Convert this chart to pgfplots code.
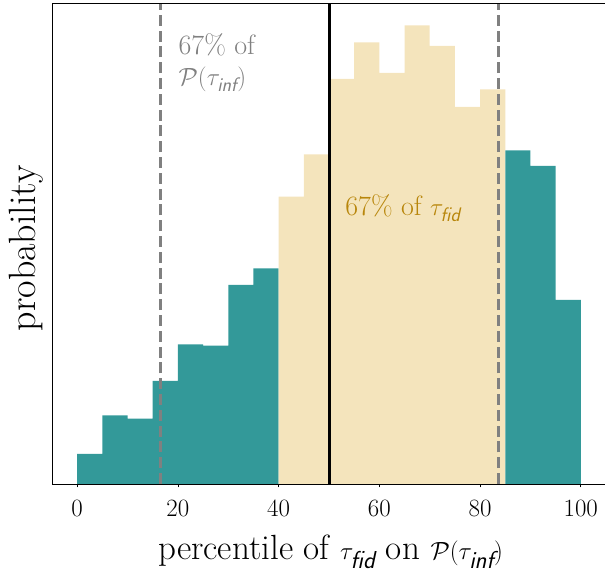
\documentclass[border=0pt]{standalone}
\usepackage{pgfplots}
\pgfplotsset{compat=1.18}
\usepackage{amsmath}
\definecolor{tealbar}{HTML}{339999}
\definecolor{wheatbar}{HTML}{F4E4BC}
\definecolor{goldtxt}{HTML}{B8860B}
\definecolor{grayline}{HTML}{808080}
\newcommand{\sub}[1]{\textsf{\itshape #1}}
\begin{document}
\begin{tikzpicture}
\useasboundingbox (-52pt,-88pt) rectangle (553pt,484pt);
\begin{axis}[
    at={(0pt,0pt)}, anchor=south west,
    scale only axis, width=554pt, height=481pt, % axis box in px
    xmin=-5, xmax=105, ymin=0, ymax=481,
    axis on top,
    axis line style={line width=0.8pt},
    xtick={0,20,...,100}, ytick=\empty,
    xtick pos=left, tick align=outside, major tick length=3.5pt,
    tick style={line width=0.8pt, black},
    xticklabel style={anchor=north, inner sep=0pt, yshift=-12.7pt, font=\fontsize{26}{31}\selectfont},
    xlabel={percentile of $\tau_{\sub{fid}}$ on $\mathcal{P}(\tau_{\sub{inf}})$},
    xlabel style={at={(axis description cs:0.503,-0.158)}, anchor=base, inner sep=0pt, font=\fontsize{35}{42}\selectfont},
    ylabel={probability},
    ylabel style={at={(axis description cs:-0.0162,0.49)}, anchor=south, inner sep=0pt, font=\fontsize{38}{45}\selectfont},
    ]
% bins outside the interval
\addplot[ybar interval, fill=tealbar, draw=none] coordinates
  {(0,30) (5,68.7) (10,65.3) (15,103) (20,139.7) (25,138.3) (30,199) (35,215.7) (40,0)};
% bins inside 67% of tau_fid
\addplot[ybar interval, fill=wheatbar, draw=none] coordinates
  {(40,287.3) (45,329.7) (50,405) (55,441.7) (60,411) (65,458.5) (70,438) (75,377) (80,394.5) (85,0)};
\addplot[ybar interval, fill=tealbar, draw=none] coordinates
  {(85,333.5) (90,318) (95,184) (100,0)};
% 67% bounds of P(tau_inf) and median
\addplot[grayline, line width=3pt, dash pattern=on 11pt off 4.8pt] coordinates {(16.5,0) (16.5,481)};
\addplot[grayline, line width=3pt, dash pattern=on 11pt off 4.8pt] coordinates {(83.6,0) (83.6,481)};
\addplot[black, line width=3pt] coordinates {(50,0) (50,481)};
\node[anchor=base west, inner sep=0pt, text=grayline, font=\fontsize{28}{34}\selectfont]
  at (axis cs:20.1,429.7) {67\% of};
\node[anchor=base west, inner sep=0pt, text=grayline, font=\fontsize{28}{34}\selectfont]
  at (axis cs:20.1,398) {$\mathcal{P}(\tau_{\sub{inf}})$};
\node[anchor=base west, inner sep=0pt, text=goldtxt, font=\fontsize{28}{34}\selectfont]
  at (axis cs:53.2,268) {67\% of $\tau_{\sub{fid}}$};
\end{axis}
\end{tikzpicture}
\end{document}
